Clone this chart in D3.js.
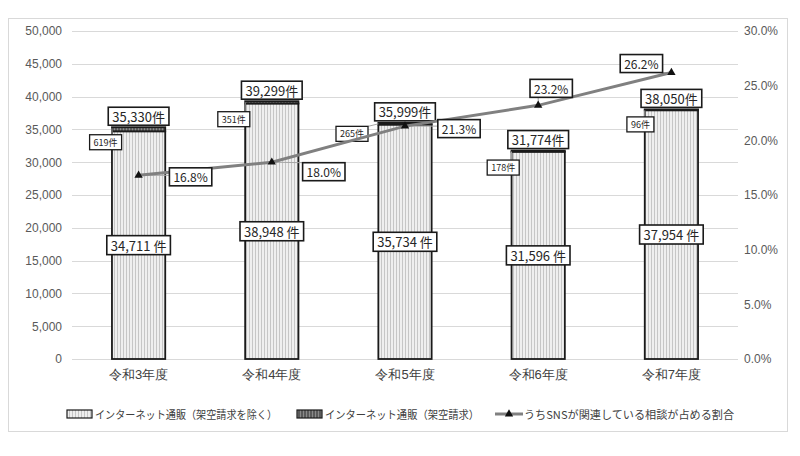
<!DOCTYPE html>
<html><head><meta charset="utf-8">
<script src="https://cdn.jsdelivr.net/npm/d3@7/dist/d3.min.js"></script>
<style>
body{margin:0;background:#fff;}
svg{display:block;font-family:"Noto Sans CJK JP","Noto Sans",sans-serif;}
</style></head>
<body><svg id="c" width="800" height="456"></svg>
<script>
const categories = ["令和3年度","令和4年度","令和5年度","令和6年度","令和7年度"];
const excludingFraud = [34711, 38948, 35734, 31596, 37954];
const fraudBilling = [619, 351, 265, 178, 96];
const totals = [35330, 39299, 35999, 31774, 38050];
const snsShare = [16.8, 18.0, 21.3, 23.2, 26.2];
const leftTicks = [0,5000,10000,15000,20000,25000,30000,35000,40000,45000,50000];
const rightTicks = [0,5,10,15,20,25,30];
const seriesNames = ["インターネット通販（架空請求を除く）","インターネット通販（架空請求）","うちSNSが関連している相談が占める割合"];
// label layout offsets (presentation only)
const smallLabelOffset = [[-33,15],[-38,18],[-53,11],[-35,17],[-31,15]];
const pctLabelOffset = [[52,1.5],[52,9.5],[54,2.5],[13,-17],[-30,-9]];

const svg = d3.select("#c");
const W=800,H=456;
const m={left:72,right:62,top:31,bottom:97};
const x0=m.left, x1=W-m.right, y0=H-m.bottom, y1=m.top;

svg.append("rect").attr("x",8.5).attr("y",18.5).attr("width",779).attr("height",413)
  .attr("fill","#fff").attr("stroke","#d9d9d9");

const defs=svg.append("defs");
const p1=defs.append("pattern").attr("id","p1").attr("patternUnits","userSpaceOnUse").attr("width",3).attr("height",3);
p1.append("rect").attr("width",3).attr("height",3).attr("fill","#efefef");
p1.append("rect").attr("width",1).attr("height",3).attr("fill","#c6c6c6");
const p2=defs.append("pattern").attr("id","p2").attr("patternUnits","userSpaceOnUse").attr("width",3).attr("height",3);
p2.append("rect").attr("width",3).attr("height",3).attr("fill","#5a5a5a");
p2.append("rect").attr("width",1).attr("height",3).attr("fill","#8a8a8a");

const x=d3.scaleBand().domain(categories).range([x0,x1]).paddingInner(0.6).paddingOuter(0.3);
const y=d3.scaleLinear().domain([0,50000]).range([y0,y1]);
const yr=d3.scaleLinear().domain([0,30]).range([y0,y1]);

// grid
svg.append("g").selectAll("line").data(leftTicks).join("line")
  .attr("x1",x0).attr("x2",x1).attr("y1",d=>Math.round(y(d))+0.5).attr("y2",d=>Math.round(y(d))+0.5)
  .attr("stroke","#d9d9d9").attr("stroke-width",1.2);

// left axis
const la=svg.append("g").attr("transform",`translate(${x0-10},0)`)
  .call(d3.axisLeft(y).tickValues(leftTicks).tickSize(0).tickPadding(0).tickFormat(d3.format(",")));
la.select(".domain").remove();
la.selectAll("text").attr("font-size",12).attr("fill","#595959").attr("font-family","inherit");
// right axis
const ra=svg.append("g").attr("transform",`translate(${x1+6},0)`)
  .call(d3.axisRight(yr).tickValues(rightTicks).tickSize(0).tickPadding(0).tickFormat(d=>d3.format(".1f")(d)+"%"));
ra.select(".domain").remove();
ra.selectAll("text").attr("font-size",12).attr("fill","#595959").attr("font-family","inherit");
// category labels
const xa=svg.append("g").attr("transform",`translate(0,${y0+8})`)
  .call(d3.axisBottom(x).tickSize(0).tickPadding(0));
xa.select(".domain").remove();
xa.selectAll("text").attr("font-size",13).attr("fill","#404040").attr("font-family","inherit").attr("dy","0.9em");

const bw=x.bandwidth();
// bars
const g=svg.append("g");
g.selectAll(".b1").data(categories).join("rect")
  .attr("x",d=>x(d)).attr("width",bw)
  .attr("y",(d,i)=>y(excludingFraud[i])).attr("height",(d,i)=>y0-y(excludingFraud[i]))
  .attr("fill","url(#p1)").attr("stroke","#1a1a1a").attr("stroke-width",1.8);
g.selectAll(".b2").data(categories).join("rect")
  .attr("x",d=>x(d)).attr("width",bw)
  .attr("y",(d,i)=>y(excludingFraud[i]+fraudBilling[i])).attr("height",(d,i)=>Math.max(1,y(excludingFraud[i])-y(excludingFraud[i]+fraudBilling[i])))
  .attr("fill","url(#p2)").attr("stroke","#1a1a1a").attr("stroke-width",1.8);

function labelBox(parent,cx,cy,text,fs,sw,pad){
  const grp=parent.append("g");
  const r=grp.append("rect");
  const t=grp.append("text").attr("x",cx).attr("y",cy).attr("text-anchor","middle")
    .attr("dominant-baseline","central").attr("font-size",fs).attr("fill","#262626").text(text);
  const w=t.node().getComputedTextLength();
  const h=fs+ (pad||5);
  r.attr("x",cx-w/2-4).attr("y",cy-h/2).attr("width",w+8).attr("height",h)
   .attr("fill","#fff").attr("stroke","#1a1a1a").attr("stroke-width",sw);
  return {x:cx-w/2-4,y:cy-h/2,w:w+8,h:h};
}
function nearest(b,px,py){
  return [Math.max(b.x,Math.min(px,b.x+b.w)),Math.max(b.y,Math.min(py,b.y+b.h))];
}

const fmt=d3.format(",");
const lblG=svg.append("g");
// inner labels
categories.forEach((c,i)=>{
  const cx=x(c)+bw/2;
  labelBox(lblG,cx,(y0+y(excludingFraud[i]))/2,fmt(excludingFraud[i])+" 件",13,1.6,6);
  labelBox(lblG,cx,y(totals[i])-11,fmt(totals[i])+"件",13,1.6,5);
});
// small labels with leaders
categories.forEach((c,i)=>{
  const ax=x(c), ay=y(totals[i])+1;
  const cx=x(c)+bw/2+smallLabelOffset[i][0], cy=y(totals[i])+smallLabelOffset[i][1];
  const leader=lblG.append("line").attr("stroke","#a6a6a6").attr("stroke-width",1);
  const b=labelBox(lblG,cx,cy,fmt(fraudBilling[i])+"件",9,1.3,6);
  const [nx,ny]=nearest(b,ax,ay);
  leader.attr("x1",ax).attr("y1",ay).attr("x2",nx).attr("y2",ny);
});

// line
const pts=categories.map((c,i)=>[x(c)+bw/2,yr(snsShare[i])]);
const lg=svg.append("g");
const leaderG=lg.append("g");
lg.append("path").attr("d",d3.line()(pts)).attr("fill","none").attr("stroke","#808080").attr("stroke-width",3);
lg.selectAll("path.m").data(pts).join("path").attr("class","m")
  .attr("transform",d=>`translate(${d[0]},${d[1]})`)
  .attr("d",d3.symbol(d3.symbolTriangle,30)).attr("fill","#111");
categories.forEach((c,i)=>{
  const [px,py]=pts[i];
  const b=labelBox(lg,px+pctLabelOffset[i][0],py+pctLabelOffset[i][1],d3.format(".1f")(snsShare[i])+"%",12,1.6,6);
  const [nx,ny]=nearest(b,px,py);
  leaderG.append("line").attr("x1",px).attr("y1",py).attr("x2",nx).attr("y2",ny)
    .attr("stroke","#a6a6a6").attr("stroke-width",1);
});

// legend
const leg=svg.append("g").attr("font-size",11).attr("fill","#404040");
const ly=414;
leg.append("rect").attr("x",67).attr("y",ly-4).attr("width",25).attr("height",8).attr("fill","url(#p1)").attr("stroke","#1a1a1a").attr("stroke-width",1.2);
leg.append("text").attr("x",95).attr("y",ly).attr("dominant-baseline","central").attr("fill","#404040")
  .attr("textLength",182).attr("lengthAdjust","spacingAndGlyphs").text(seriesNames[0]);
leg.append("rect").attr("x",297).attr("y",ly-4).attr("width",25).attr("height",8).attr("fill","url(#p2)").attr("stroke","#1a1a1a").attr("stroke-width",1.2);
leg.append("text").attr("x",325).attr("y",ly).attr("dominant-baseline","central").attr("fill","#404040")
  .attr("textLength",154).attr("lengthAdjust","spacingAndGlyphs").text(seriesNames[1]);
leg.append("line").attr("x1",495).attr("x2",523).attr("y1",ly).attr("y2",ly).attr("stroke","#808080").attr("stroke-width",3);
leg.append("path").attr("transform",`translate(509,${ly})`).attr("d",d3.symbol(d3.symbolTriangle,30)).attr("fill","#111");
leg.append("text").attr("x",524).attr("y",ly).attr("dominant-baseline","central").attr("fill","#404040")
  .attr("textLength",210).attr("lengthAdjust","spacingAndGlyphs").text(seriesNames[2]);
</script></body></html>
